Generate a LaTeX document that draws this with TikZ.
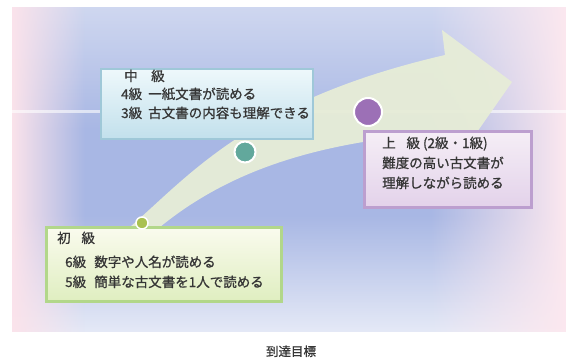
\documentclass[tikz,border=0pt]{standalone}
\usepackage{fontspec}
\setmainfont{Noto Sans CJK JP}
\newfontfamily\mfont{Noto Sans CJK JP}[FakeBold=0.9]
\usetikzlibrary{fadings,shadows}
\definecolor{bgpink}{HTML}{FBE3EB}
\definecolor{bgpinkR}{HTML}{FCE8EF}
\definecolor{bgblue}{HTML}{A8B7E4}
\definecolor{arrowfill}{HTML}{E7EDD7}
\definecolor{txt}{HTML}{363636}
\definecolor{midtop}{HTML}{EEF8FB}
\definecolor{midbot}{HTML}{C2E0EC}
\definecolor{midline}{HTML}{9FC8D8}
\definecolor{uptop}{HTML}{F5EEF6}
\definecolor{upbot}{HTML}{E3D2EA}
\definecolor{upline}{HTML}{BC9FCF}
\definecolor{lotop}{HTML}{FAFBEE}
\definecolor{lobot}{HTML}{DFEEC0}
\definecolor{loline}{HTML}{B2D78A}
\definecolor{cpurple}{HTML}{9C70B6}
\definecolor{cteal}{HTML}{62A89C}
\definecolor{cgreen}{HTML}{A9C152}
\tikzset{
  boxbase/.style={rectangle, anchor=north west, inner sep=0pt,
    drop shadow={shadow xshift=1.5pt, shadow yshift=-1.5pt, opacity=0.25, fill=black!60}},
  midbox/.style={boxbase, draw=midline, line width=1.8pt, top color=midtop, bottom color=midbot},
  upbox/.style={boxbase, draw=upline, line width=2.6pt, top color=uptop, bottom color=upbot},
  lobox/.style={boxbase, draw=loline, line width=2.6pt, top color=lotop, bottom color=lobot},
  txtline/.style={anchor=base west, inner sep=0pt, text=txt},
  dot/.style={circle, draw=white, line width=2pt, inner sep=0pt}
}
\begin{document}
\begin{tikzpicture}[x=1pt,y=-1pt,font=\mfont\fontsize{13.5pt}{16pt}\selectfont]
\useasboundingbox (0,0) rectangle (577,361);
\fill[white] (0,0) rectangle (577,361);
% background panel
\fill[bgblue] (12,7) rectangle (566,332);
\fill[white, opacity=0.45, path fading=south] (12,7) rectangle (566,130);
\fill[white, opacity=0.7, path fading=north] (12,215) rectangle (566,332);
\fill[bgpink, path fading=east] (12,7) rectangle (85,332);
\fill[bgpinkR, path fading=west] (430,7) rectangle (566,332);
\fill[white, opacity=0.6] (12,110) rectangle (566,112.5);
% arrow
\fill[arrowfill, opacity=0.95] (130,227) .. controls (190,175) and (250,100) .. (445,55)
  -- (442,30) -- (512,82) -- (468,145) -- (455,132)
  .. controls (320,140) and (230,170) .. (160,227) -- cycle;
% boxes
\node[midbox, minimum width=212pt, minimum height=70pt] (mid) at (100,68) {};
\node[upbox, minimum width=167pt, minimum height=76pt] (up) at (363,130) {};
\node[lobox, minimum width=235pt, minimum height=74pt] (low) at (45,226) {};
% circles
\node[dot, fill=cpurple, minimum size=28pt] (cp) at (368,112) {};
\node[dot, fill=cteal, minimum size=21pt] (ct) at (245,152) {};
\node[dot, fill=cgreen, minimum size=12pt, line width=1.5pt] (cg) at (142,223) {};
% texts
\node[txtline] (m1) at (124,81) {中\hspace{1em}級};
\node[txtline] (m2) at (121,99) {4級\hspace{0.45em}一紙文書が読める};
\node[txtline] (m3) at (121,118) {3級\hspace{0.45em}古文書の内容も理解できる};
\node[txtline] (u1) at (382,148) {上\hspace{0.8em}級 (2級・1級)};
\node[txtline] (u2) at (382,168) {難度の高い古文書が};
\node[txtline] (u3) at (382,188) {理解しながら読める};
\node[txtline] (l1) at (57,243) {初\hspace{0.8em}級};
\node[txtline] (l2) at (65,267) {6級\hspace{0.6em}数字や人名が読める};
\node[txtline] (l3) at (65,287) {5級\hspace{0.6em}簡単な古文書を1人で読める};
\node[anchor=base, inner sep=0pt, text=txt, font=\mfont\fontsize{12.5pt}{14pt}\selectfont] (cap) at (291,356) {到達目標};
\end{tikzpicture}
\end{document}
